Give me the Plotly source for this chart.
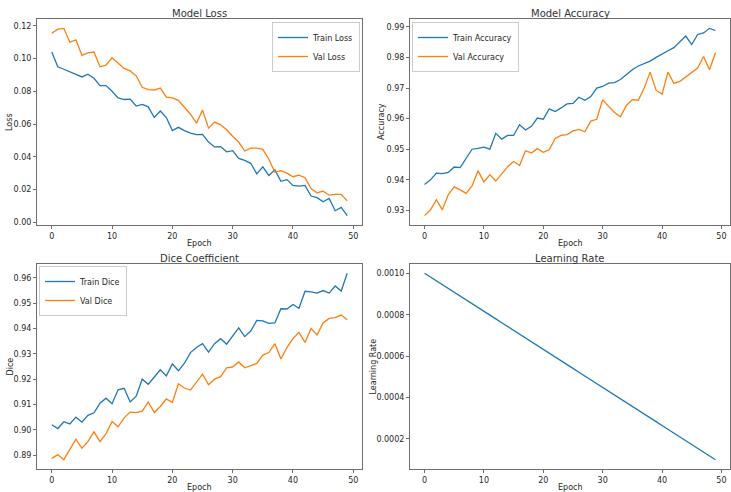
import plotly.graph_objects as go

epochs = list(range(50))

train_loss = [0.104, 0.095, 0.0935, 0.092, 0.0905, 0.0888, 0.0905, 0.088, 0.0835, 0.0835,
              0.080, 0.076, 0.075, 0.0752, 0.071, 0.072, 0.0705, 0.064, 0.068, 0.064,
              0.056, 0.058, 0.056, 0.0545, 0.0535, 0.0537, 0.049, 0.046, 0.0462, 0.043,
              0.0437, 0.039, 0.0378, 0.036, 0.0295, 0.0338, 0.0285, 0.032, 0.025, 0.026,
              0.0225, 0.022, 0.0225, 0.016, 0.015, 0.0125, 0.0145, 0.007, 0.009, 0.004]
val_loss = [0.1155, 0.118, 0.1185, 0.110, 0.1115, 0.102, 0.1035, 0.104, 0.095, 0.096,
            0.1005, 0.097, 0.094, 0.0925, 0.0895, 0.0825, 0.081, 0.0808, 0.082, 0.0765,
            0.076, 0.0745, 0.0705, 0.066, 0.0605, 0.0685, 0.0575, 0.0612, 0.0595, 0.0565,
            0.0525, 0.049, 0.0435, 0.0453, 0.0453, 0.0445, 0.0385, 0.0305, 0.0315, 0.030,
            0.0278, 0.0288, 0.0272, 0.0205, 0.018, 0.019, 0.0165, 0.017, 0.017, 0.013]

train_acc = [0.9385, 0.940, 0.9422, 0.942, 0.9424, 0.9442, 0.944, 0.947, 0.950, 0.9503,
             0.9507, 0.950, 0.9552, 0.9533, 0.9545, 0.9545, 0.958, 0.9563, 0.9575, 0.9602,
             0.9598, 0.9632, 0.9623, 0.9635, 0.9648, 0.965, 0.967, 0.966, 0.9672, 0.970,
             0.9705, 0.9716, 0.9718, 0.9728, 0.9745, 0.976, 0.9772, 0.978, 0.9788, 0.980,
             0.9812, 0.9822, 0.9832, 0.985, 0.987, 0.9842, 0.9875, 0.988, 0.9895, 0.9888]
val_acc = [0.9283, 0.9302, 0.9335, 0.9302, 0.9352, 0.9377, 0.9367, 0.9356, 0.938, 0.943,
           0.9393, 0.9417, 0.9396, 0.942, 0.9443, 0.946, 0.9447, 0.9495, 0.9488, 0.9502,
           0.949, 0.9498, 0.9535, 0.9545, 0.9548, 0.956, 0.9565, 0.9557, 0.9592, 0.9598,
           0.9662, 0.964, 0.962, 0.9606, 0.9643, 0.9662, 0.966, 0.970, 0.9752, 0.9693,
           0.968, 0.9752, 0.9715, 0.9722, 0.9737, 0.9753, 0.9765, 0.9803, 0.976, 0.9815]

train_dice = [0.902, 0.9005, 0.9032, 0.9023, 0.905, 0.903, 0.9057, 0.9067, 0.9105, 0.9125,
              0.9103, 0.9158, 0.9164, 0.911, 0.9133, 0.920, 0.918, 0.921, 0.9237, 0.9213,
              0.926, 0.9233, 0.9263, 0.9305, 0.9325, 0.934, 0.9307, 0.934, 0.936, 0.9338,
              0.9373, 0.9403, 0.9368, 0.939, 0.9432, 0.943, 0.942, 0.9422, 0.9478, 0.9477,
              0.9495, 0.948, 0.9547, 0.9545, 0.954, 0.955, 0.954, 0.9568, 0.9548, 0.9618]
val_dice = [0.8887, 0.8902, 0.8882, 0.8922, 0.8963, 0.8927, 0.8953, 0.8992, 0.8953, 0.8985,
            0.9033, 0.9012, 0.9047, 0.907, 0.9068, 0.9074, 0.911, 0.9068, 0.9092, 0.9122,
            0.9108, 0.9182, 0.9165, 0.9157, 0.919, 0.922, 0.9178, 0.920, 0.921, 0.9245,
            0.9248, 0.9268, 0.9245, 0.9253, 0.9262, 0.9295, 0.9305, 0.934, 0.928, 0.9325,
            0.936, 0.9385, 0.9345, 0.940, 0.9375, 0.9422, 0.944, 0.9443, 0.9453, 0.9435]

learning_rate = [0.001, 0.000982, 0.000963, 0.000945, 0.000927, 0.000908, 0.000890, 0.000871, 0.000853, 0.000835,
                 0.000816, 0.000798, 0.000780, 0.000761, 0.000743, 0.000724, 0.000706, 0.000688, 0.000669, 0.000651,
                 0.000633, 0.000614, 0.000596, 0.000578, 0.000559, 0.000541, 0.000522, 0.000504, 0.000486, 0.000467,
                 0.000449, 0.000431, 0.000412, 0.000394, 0.000376, 0.000357, 0.000339, 0.000320, 0.000302, 0.000284,
                 0.000265, 0.000247, 0.000229, 0.000210, 0.000192, 0.000173, 0.000155, 0.000137, 0.000118, 0.000100]

x_ticks = [0, 10, 20, 30, 40, 50]
loss_ticks = [0.00, 0.02, 0.04, 0.06, 0.08, 0.10, 0.12]
acc_ticks = [0.93, 0.94, 0.95, 0.96, 0.97, 0.98, 0.99]
dice_ticks = [0.89, 0.90, 0.91, 0.92, 0.93, 0.94, 0.95, 0.96]
lr_ticks = [0.0002, 0.0004, 0.0006, 0.0008, 0.0010]

BLUE = "#1f77b4"
ORANGE = "#ff7f0e"
W, H = 731, 492
FONT = "DejaVu Sans"
TXT = "#262626"
SPINE = "#6e6e6e"


def padded(*series):
    lo = min(min(s) for s in series)
    hi = max(max(s) for s in series)
    p = (hi - lo) * 0.05
    return [lo - p, hi + p]


# plot areas in pixels: (left, right, top, bottom)
boxes = {
    1: (37, 362, 19, 225),
    2: (410, 730, 19, 225),
    3: (37, 362, 264, 469),
    4: (410, 730, 264, 469),
}
ytitle_offset = {1: 27, 2: 28, 3: 27, 4: 37}

fig = go.Figure()

panels = [
    (1, "Model Loss", "Loss", [("Train Loss", train_loss, BLUE), ("Val Loss", val_loss, ORANGE)], loss_ticks, ".2f", "legend"),
    (2, "Model Accuracy", "Accuracy", [("Train Accuracy", train_acc, BLUE), ("Val Accuracy", val_acc, ORANGE)], acc_ticks, ".2f", "legend2"),
    (3, "Dice Coefficient", "Dice", [("Train Dice", train_dice, BLUE), ("Val Dice", val_dice, ORANGE)], dice_ticks, ".2f", "legend3"),
    (4, "Learning Rate", "Learning Rate", [("Learning Rate", learning_rate, BLUE)], lr_ticks, ".4f", None),
]

layout = {}
annotations = []
for idx, title, ytitle, series, yticks, fmt, leg in panels:
    l, r, t, b = boxes[idx]
    xa = "xaxis" if idx == 1 else f"xaxis{idx}"
    ya = "yaxis" if idx == 1 else f"yaxis{idx}"
    xref = "x" if idx == 1 else f"x{idx}"
    yref = "y" if idx == 1 else f"y{idx}"
    for name, vals, col in series:
        fig.add_trace(go.Scatter(
            x=epochs, y=vals, mode="lines", name=name,
            line=dict(color=col, width=1.3),
            xaxis=xref, yaxis=yref,
            showlegend=leg is not None,
            legend=leg if leg else "legend",
        ))
    common = dict(showline=True, mirror=True, linecolor=SPINE, linewidth=1,
                  ticks="outside", ticklen=3, tickwidth=0.8, tickcolor=SPINE,
                  showgrid=False, zeroline=False, automargin=False,
                  tickfont=dict(family=FONT, size=8, color=TXT))
    layout[xa] = dict(domain=[l / W, r / W], anchor=yref, range=[-2.45, 51.45],
                      tickvals=x_ticks, **common)
    layout[ya] = dict(domain=[1 - b / H, 1 - t / H], anchor=xref,
                      range=padded(*[s[1] for s in series]),
                      tickvals=yticks, tickformat=fmt, **common)
    annotations.append(dict(text=title, xref="paper", yref="paper",
                            x=(l + r) / 2 / W, y=1 - (t - 5.5) / H, xanchor="center", yanchor="middle",
                            showarrow=False, font=dict(family=FONT, size=10, color="#333333")))
    annotations.append(dict(text="Epoch", xref="paper", yref="paper",
                            x=(l + r) / 2 / W, y=1 - (b + 18) / H, xanchor="center", yanchor="middle",
                            showarrow=False, font=dict(family=FONT, size=8, color=TXT)))
    annotations.append(dict(text=ytitle, xref="paper", yref="paper", textangle=-90,
                            x=(l - ytitle_offset[idx]) / W, y=1 - (t + b) / 2 / H,
                            xanchor="center", yanchor="middle",
                            showarrow=False, font=dict(family=FONT, size=8, color=TXT)))

leg_common = dict(bgcolor="rgba(255,255,255,0.8)", bordercolor="#cccccc", borderwidth=1,
                  font=dict(family=FONT, size=8, color=TXT), tracegroupgap=0,
                  itemwidth=30, yanchor="top")
layout["legend"] = dict(x=360 / W, y=1 - 22 / H, xanchor="right", **leg_common)
layout["legend2"] = dict(x=412 / W, y=1 - 22 / H, xanchor="left", **leg_common)
layout["legend3"] = dict(x=39 / W, y=1 - 266 / H, xanchor="left", **leg_common)

fig.update_layout(
    width=W, height=H,
    margin=dict(l=0, r=0, t=0, b=0, autoexpand=False),
    paper_bgcolor="white", plot_bgcolor="white",
    font=dict(family=FONT, size=8, color=TXT),
    annotations=annotations,
    **layout,
)

fig.write_html("out.html", config={"displayModeBar": False},
               post_script="document.body.style.margin='0';document.body.style.overflow='hidden';")
